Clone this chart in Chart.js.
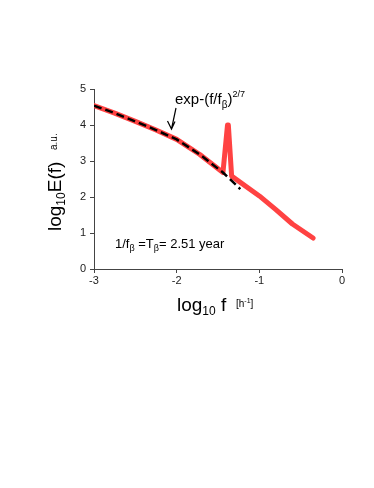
<!DOCTYPE html>
<html>
<head>
<meta charset="utf-8">
<script src="https://cdn.jsdelivr.net/npm/chart.js@4/dist/chart.umd.min.js"></script>
<style>
  html, body { margin: 0; padding: 0; background: #fff; }
  canvas { display: block; }
</style>
</head>
<body>
<canvas id="grafica" width="374" height="488"></canvas>
<script>
// spectrum (red curve), log10 f vs log10 E(f)
const logF = [-3, -2.75, -2.5, -2.25, -2, -1.72, -1.44, -1.385, -1.375, -1.335, -1.0, -0.8, -0.6, -0.35];
const logE = [4.54, 4.33, 4.1, 3.86, 3.6, 3.18, 2.68, 4.0, 4.0, 2.58, 2.03, 1.65, 1.25, 0.86];

// fit exp-(f/fb)^(2/7) (black dashed)
const fitF = [-3, -2.75, -2.5, -2.25, -2, -1.72, -1.44, -1.23];
const fitE = [4.54, 4.33, 4.1, 3.86, 3.6, 3.18, 2.68, 2.22];

const xTicks = [-3, -2, -1, 0];
const yTicks = [0, 1, 2, 3, 4, 5];

const fuente = "'Liberation Sans', Arial, sans-serif";

// dibuja texto por partes (subindices / superindices)
function partes(ctx, x, y, lista) {
    lista.forEach(p => {
        ctx.font = p.s + "px " + fuente;
        ctx.fillText(p.t, x, y + (p.dy || 0));
        x += ctx.measureText(p.t).width;
    });
}

const textos = {
    id: "textos",
    afterDraw(chart) {
        const ctx = chart.ctx;
        ctx.save();
        ctx.fillStyle = "#000";
        ctx.textBaseline = "alphabetic";
        ctx.textAlign = "left";

        // titulo eje y
        ctx.save();
        ctx.translate(61, 231);
        ctx.rotate(-Math.PI / 2);
        partes(ctx, 0, 0, [
            { t: "log", s: 19 }, { t: "10", s: 12, dy: 4 }, { t: "E(f)", s: 19 }
        ]);
        ctx.restore();
        ctx.save();
        ctx.translate(57, 150);
        ctx.rotate(-Math.PI / 2);
        partes(ctx, 0, 0, [{ t: "a.u.", s: 10 }]);
        ctx.restore();

        // titulo eje x
        partes(ctx, 177, 311, [
            { t: "log", s: 19 }, { t: "10", s: 12, dy: 4 }, { t: " f", s: 19 }
        ]);
        partes(ctx, 236, 307, [
            { t: "[h", s: 10 }, { t: "-1", s: 7, dy: -4 }, { t: "]", s: 10 }
        ]);

        // anotacion del ajuste
        partes(ctx, 175, 104, [
            { t: "exp-(f/f", s: 15 }, { t: "\u03b2", s: 10, dy: 4 }, { t: ")", s: 15 },
            { t: "2/7", s: 9, dy: -7 }
        ]);
        // flecha
        ctx.strokeStyle = "#000";
        ctx.lineWidth = 1.2;
        ctx.beginPath();
        ctx.moveTo(176, 108);
        ctx.lineTo(171.5, 129);
        ctx.moveTo(167.5, 121);
        ctx.lineTo(171.5, 129);
        ctx.lineTo(175, 121.5);
        ctx.stroke();

        // periodo
        partes(ctx, 115, 248, [
            { t: "1/f", s: 13 }, { t: "\u03b2", s: 9, dy: 3 }, { t: " =T", s: 13 },
            { t: "\u03b2", s: 9, dy: 3 }, { t: "= 2.51 year", s: 13 }
        ]);
        ctx.restore();
    }
};

new Chart(document.getElementById("grafica"), {
    type: "line",
    data: {
        datasets: [
            {
                data: fitF.map((x, i) => ({ x: x, y: fitE[i] })),
                borderColor: "#000",
                borderWidth: 2.5,
                borderDash: [8, 4],
                pointRadius: 0,
                fill: false
            },
            {
                data: logF.map((x, i) => ({ x: x, y: logE[i] })),
                borderColor: "#ff4242",
                borderWidth: 5,
                borderCapStyle: "round",
                borderJoinStyle: "round",
                pointRadius: 0,
                fill: false
            }
        ]
    },
    options: {
        responsive: false,
        animation: false,
        layout: { padding: { top: 89, right: 32, bottom: 0, left: 0 } },
        plugins: { legend: { display: false }, tooltip: { enabled: false } },
        scales: {
            x: {
                type: "linear",
                min: -3, max: 0,
                afterBuildTicks: s => { s.ticks = xTicks.map(v => ({ value: v })); },
                afterFit: s => { s.height = 219; },
                grid: { drawOnChartArea: false, drawTicks: true, tickLength: 4, color: "#444" },
                border: { display: true, color: "#444", width: 1 },
                ticks: { color: "#222", font: { family: fuente, size: 11 }, padding: 1, maxRotation: 0 }
            },
            y: {
                min: 0, max: 5,
                afterBuildTicks: s => { s.ticks = yTicks.map(v => ({ value: v })); },
                afterFit: s => { s.width = 94; },
                grid: { drawOnChartArea: false, drawTicks: true, tickLength: 4, color: "#444" },
                border: { display: true, color: "#444", width: 1 },
                ticks: { color: "#222", font: { family: fuente, size: 11 }, padding: 4 }
            }
        }
    },
    plugins: [textos]
});
</script>
</body>
</html>
